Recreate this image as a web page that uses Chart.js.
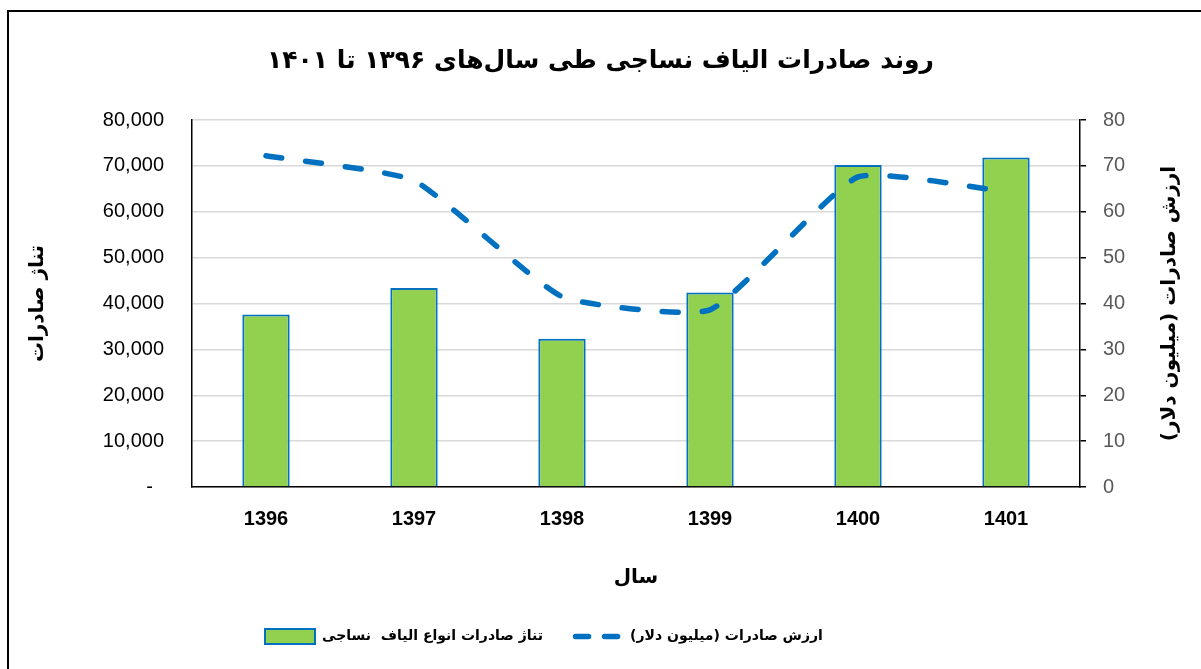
<!DOCTYPE html>
<html>
<head>
<meta charset="utf-8">
<script src="https://cdn.jsdelivr.net/npm/chart.js@4/dist/chart.umd.min.js"></script>
<style>
  html, body { margin: 0; padding: 0; background: #fff; }
  #wrap { position: relative; width: 1201px; height: 669px; }
</style>
</head>
<body>
<div id="wrap"><canvas id="chart-area" width="1201" height="669"></canvas></div>
<script>
(function () {
  'use strict';

  // data
  var years = ['1396', '1397', '1398', '1399', '1400', '1401'];
  var tonnage = [37600, 43400, 32300, 42400, 70200, 71800];      // left axis, tonnes
  var exportValue = [72.2, 66.8, 41.5, 38.6, 67.6, 64.4];        // right axis, million USD

  var chartTitle = 'روند صادرات الیاف نساجی طی سال‌های ۱۳۹۶ تا ۱۴۰۱';
  var xTitle = 'سال';
  var leftTitle = 'تناژ صادرات';
  var rightTitle = 'ارزش صادرات (میلیون دلار)\u200F';
  var barLabel = 'تناژ صادرات انواع الیاف  نساجی';
  var lineLabel = 'ارزش صادرات (میلیون دلار)\u200F';

  var NUM_FONT = "'Liberation Sans', 'DejaVu Sans', sans-serif";
  var FA_FONT = "'DejaVu Sans', sans-serif";
  var BLUE = '#0070c0';
  var GREEN = '#92d050';
  var legendStartX = 265;

  var chartFrame = {
    id: 'chartFrame',
    afterLayout: function (chart) {
      // excel puts the legend left of centre
      var legend = chart.legend;
      var pad = legend.options.labels.padding;
      var start = (legend.left + pad + legend.right - legend.lineWidths[0]) / 2;
      var shift = legendStartX - start;
      legend.left += shift;
      legend.right += shift;
    },
    beforeDraw: function (chart) {
      var ctx = chart.ctx;
      ctx.save();
      ctx.strokeStyle = '#000';
      ctx.lineWidth = 2;
      ctx.strokeRect(8, 11, 1300, 1000);
      ctx.restore();
    },
    afterDraw: function (chart) {
      var ctx = chart.ctx;
      var area = chart.chartArea;
      var y1 = chart.scales.y1;

      // right axis title, rotated the same way as the left one
      ctx.save();
      ctx.translate(y1.right - 21, (area.top + area.bottom) / 2);
      ctx.rotate(-Math.PI / 2);
      ctx.fillStyle = '#000';
      ctx.font = 'bold 20px ' + FA_FONT;
      ctx.textAlign = 'center';
      ctx.textBaseline = 'middle';
      ctx.fillText(rightTitle, 0, 0);
      ctx.restore();

      // dashed sample for the line series
      var legend = chart.legend;
      legend.legendItems.forEach(function (item, i) {
        if (item.datasetIndex !== 1) return;
        var box = legend.legendHitBoxes[i];
        var y = box.top + box.height / 2;
        ctx.save();
        ctx.strokeStyle = BLUE;
        ctx.lineWidth = 5.5;
        ctx.lineCap = 'round';
        ctx.setLineDash([13, 16]);
        ctx.beginPath();
        ctx.moveTo(box.left + 2.5, y);
        ctx.lineTo(box.left + 47.5, y);
        ctx.stroke();
        ctx.restore();
      });
    }
  };

  var config = {
    type: 'bar',
    data: {
      labels: years,
      datasets: [{
        type: 'bar',
        label: barLabel,
        data: tonnage,
        yAxisID: 'y',
        order: 1,
        backgroundColor: GREEN,
        borderColor: BLUE,
        borderWidth: 2,
        barPercentage: 0.32,
        categoryPercentage: 1.0
      }, {
        type: 'line',
        label: lineLabel,
        data: exportValue,
        yAxisID: 'y1',
        order: 0,
        borderColor: BLUE,
        backgroundColor: BLUE,
        borderWidth: 5.5,
        borderDash: [16, 24],
        borderCapStyle: 'round',
        pointRadius: 0,
        tension: 0.15,
        fill: false
      }]
    },
    options: {
      responsive: false,
      animation: false,
      devicePixelRatio: 1,
      layout: { padding: { left: 10, right: 10, top: 0, bottom: 15 } },
      plugins: {
        tooltip: { enabled: false },
        title: {
          display: true,
          text: chartTitle,
          color: '#000',
          font: { family: FA_FONT, size: 25, weight: 'bold', lineHeight: 1.2 },
          padding: { top: 46, bottom: 44 }
        },
        legend: {
          position: 'bottom',
          labels: {
            boxWidth: 50,
            boxHeight: 15,
            padding: 30,
            color: '#000',
            font: { family: FA_FONT, size: 14, weight: 'bold' },
            sort: function (a, b) { return a.datasetIndex - b.datasetIndex; },
            generateLabels: function (chart) {
              var items = Chart.defaults.plugins.legend.labels.generateLabels(chart);
              items.forEach(function (item) {
                if (item.datasetIndex === 1) {
                  item.fillStyle = 'rgba(0,0,0,0)';
                  item.strokeStyle = 'rgba(0,0,0,0)';
                  item.lineWidth = 0;
                  item.lineDash = [];
                }
              });
              return items;
            }
          }
        }
      },
      scales: {
        x: {
          grid: { display: false, drawTicks: false },
          border: { color: '#000', width: 1.5 },
          ticks: { color: '#000', padding: 20, font: { family: NUM_FONT, size: 20, weight: 'bold' } },
          title: {
            display: true,
            text: xTitle,
            color: '#000',
            font: { family: FA_FONT, size: 20, weight: 'bold', lineHeight: 1.2 },
            padding: { top: 0, bottom: 9 }
          },
          afterFit: function (scale) { scale.height = 112; }
        },
        y: {
          position: 'left',
          min: 0,
          max: 80000,
          grid: { color: '#d9d9d9', lineWidth: 1.5, drawTicks: false },
          border: { color: '#000', width: 1.5 },
          ticks: {
            stepSize: 10000,
            color: '#000',
            padding: 28,
            font: { family: NUM_FONT, size: 20 },
            callback: function (value) {
              return value === 0 ? '-  ' : value.toLocaleString('en-US');
            }
          },
          title: {
            display: true,
            text: leftTitle,
            color: '#000',
            font: { family: FA_FONT, size: 20, weight: 'bold', lineHeight: 1.2 },
            padding: { top: 16, bottom: 0 }
          },
          afterFit: function (scale) { scale.width = 182; }
        },
        y1: {
          position: 'right',
          min: 0,
          max: 80,
          grid: { drawOnChartArea: false, drawTicks: true, tickLength: 6, color: '#000', lineWidth: 1.5 },
          border: { color: '#000', width: 1.5 },
          ticks: { stepSize: 10, color: '#595959', padding: 17, font: { family: NUM_FONT, size: 20 } },
          title: { display: false },
          afterFit: function (scale) { scale.width = 111; }
        }
      }
    },
    plugins: [chartFrame]
  };

  var ctx = document.getElementById('chart-area').getContext('2d');
  window.exportChart = new Chart(ctx, config);
})();
</script>
</body>
</html>
